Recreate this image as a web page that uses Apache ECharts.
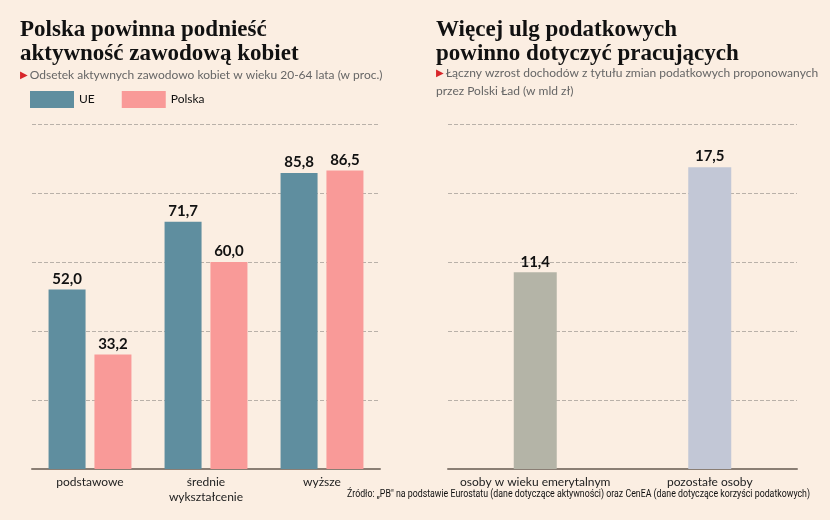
<!DOCTYPE html>
<html>
<head>
<meta charset="utf-8">
<script src="https://cdn.jsdelivr.net/npm/echarts@6/dist/echarts.min.js"></script>
<style>
  html, body { margin: 0; padding: 0; background: #fbeee2; }
  #chart { width: 830px; height: 520px; }
</style>
</head>
<body>
<div id="chart"></div>
<script>
// lewy wykres - aktywnosc zawodowa kobiet
const eduCategories = ['podstawowe', 'średnie\nwykształcenie', 'wyższe'];
const ueValues = [52.0, 71.7, 85.8];
const plValues = [33.2, 60.0, 86.5];

// prawy wykres - korzysci podatkowe
const taxCategories = ['osoby w wieku emerytalnym', 'pozostałe osoby'];
const taxValues = [11.4, 17.5];

const fmt = p => p.value.toFixed(1).replace('.', ',');
const valueLabel = {
    show: true,
    position: 'top',
    distance: 3,
    formatter: fmt,
    fontFamily: 'Lato',
    fontWeight: 'bold',
    fontSize: 15,
    color: '#111'
};
const catLabel = { color: '#222', fontFamily: 'Lato', fontSize: 12, lineHeight: 15, margin: 6, interval: 0 };
const axisLine = { lineStyle: { color: '#8a7e74', width: 2 } };
const grid = { type: 'dashed', color: '#b9b1a9', width: 1 };

const chart = echarts.init(document.getElementById('chart'));

const option = {
    backgroundColor: '#fbeee2',
    animation: false,
    graphic: [
        {
            type: 'text', left: 20, top: 18,
            style: {
                text: 'Polska powinna podnieść\naktywność zawodową kobiet',
                font: 'bold 23px "Liberation Serif"', lineHeight: 24, fill: '#111'
            }
        },
        {
            type: 'text', left: 20, top: 69,
            style: {
                text: '{t|▶}{s|Odsetek aktywnych zawodowo kobiet w wieku 20-64 lata (w proc.)}',
                rich: {
                    t: { fill: '#d8262a', fontSize: 10, fontFamily: 'DejaVu Sans', padding: [0, 2, 0, 0] },
                    s: { fill: '#666', fontSize: 12, fontFamily: 'Lato' }
                }
            }
        },
        {
            type: 'text', left: 436, top: 18,
            style: {
                text: 'Więcej ulg podatkowych\npowinno dotyczyć pracujących',
                font: 'bold 23px "Liberation Serif"', lineHeight: 24, fill: '#111'
            }
        },
        {
            type: 'text', left: 436, top: 67,
            style: {
                text: '{t|▶}{s|Łączny wzrost dochodów z tytułu zmian podatkowych proponowanych}\n{s|przez Polski Ład (w mld zł)}',
                rich: {
                    t: { fill: '#d8262a', fontSize: 10, fontFamily: 'DejaVu Sans', padding: [0, 2, 0, 0] },
                    s: { fill: '#666', fontSize: 12, fontFamily: 'Lato', lineHeight: 18 }
                }
            }
        },
        {
            // zrodlo - waskie pismo
            type: 'text', x: 810, y: 494, scaleX: 0.88,
            style: {
                text: 'Źródło: „PB" na podstawie Eurostatu (dane dotyczące aktywności) oraz CenEA (dane dotyczące korzyści podatkowych)',
                font: '10px "Liberation Sans Narrow", "Roboto"', fill: '#111',
                align: 'right', verticalAlign: 'middle'
            }
        }
    ],
    legend: {
        left: 30, top: 91, padding: 0,
        itemWidth: 44, itemHeight: 17, itemGap: 27,
        icon: 'rect',
        textStyle: { fontFamily: 'Lato', fontSize: 12, color: '#111' },
        data: ['UE', 'Polska']
    },
    grid: [
        { left: 32, right: 450, top: 124, bottom: 51 },
        { left: 448, right: 33, top: 124, bottom: 51 }
    ],
    xAxis: [
        { type: 'category', gridIndex: 0, data: eduCategories, axisLine, axisTick: { show: false }, axisLabel: catLabel },
        { type: 'category', gridIndex: 1, data: taxCategories, axisLine, axisTick: { show: false }, axisLabel: catLabel }
    ],
    yAxis: [
        { type: 'value', gridIndex: 0, min: 0, max: 100, interval: 20, axisLabel: { show: false }, axisLine: { show: false }, splitLine: { lineStyle: grid } },
        { type: 'value', gridIndex: 1, min: 0, max: 20, interval: 4, axisLabel: { show: false }, axisLine: { show: false }, splitLine: { lineStyle: grid } }
    ],
    series: [
        {
            name: 'UE', type: 'bar', xAxisIndex: 0, yAxisIndex: 0,
            data: ueValues, barWidth: 37, barGap: '24%',
            itemStyle: { color: '#5f8e9f' }, label: valueLabel
        },
        {
            name: 'Polska', type: 'bar', xAxisIndex: 0, yAxisIndex: 0,
            data: plValues, barWidth: 37, barGap: '24%',
            itemStyle: { color: '#f99a98' }, label: valueLabel
        },
        {
            name: 'korzyści', type: 'bar', xAxisIndex: 1, yAxisIndex: 1,
            data: taxValues.map((v, i) => ({ value: v, itemStyle: { color: i === 0 ? '#b4b4a7' : '#c2c7d6' } })),
            barWidth: 43, label: valueLabel
        }
    ]
};

chart.setOption(option);
</script>
</body>
</html>
